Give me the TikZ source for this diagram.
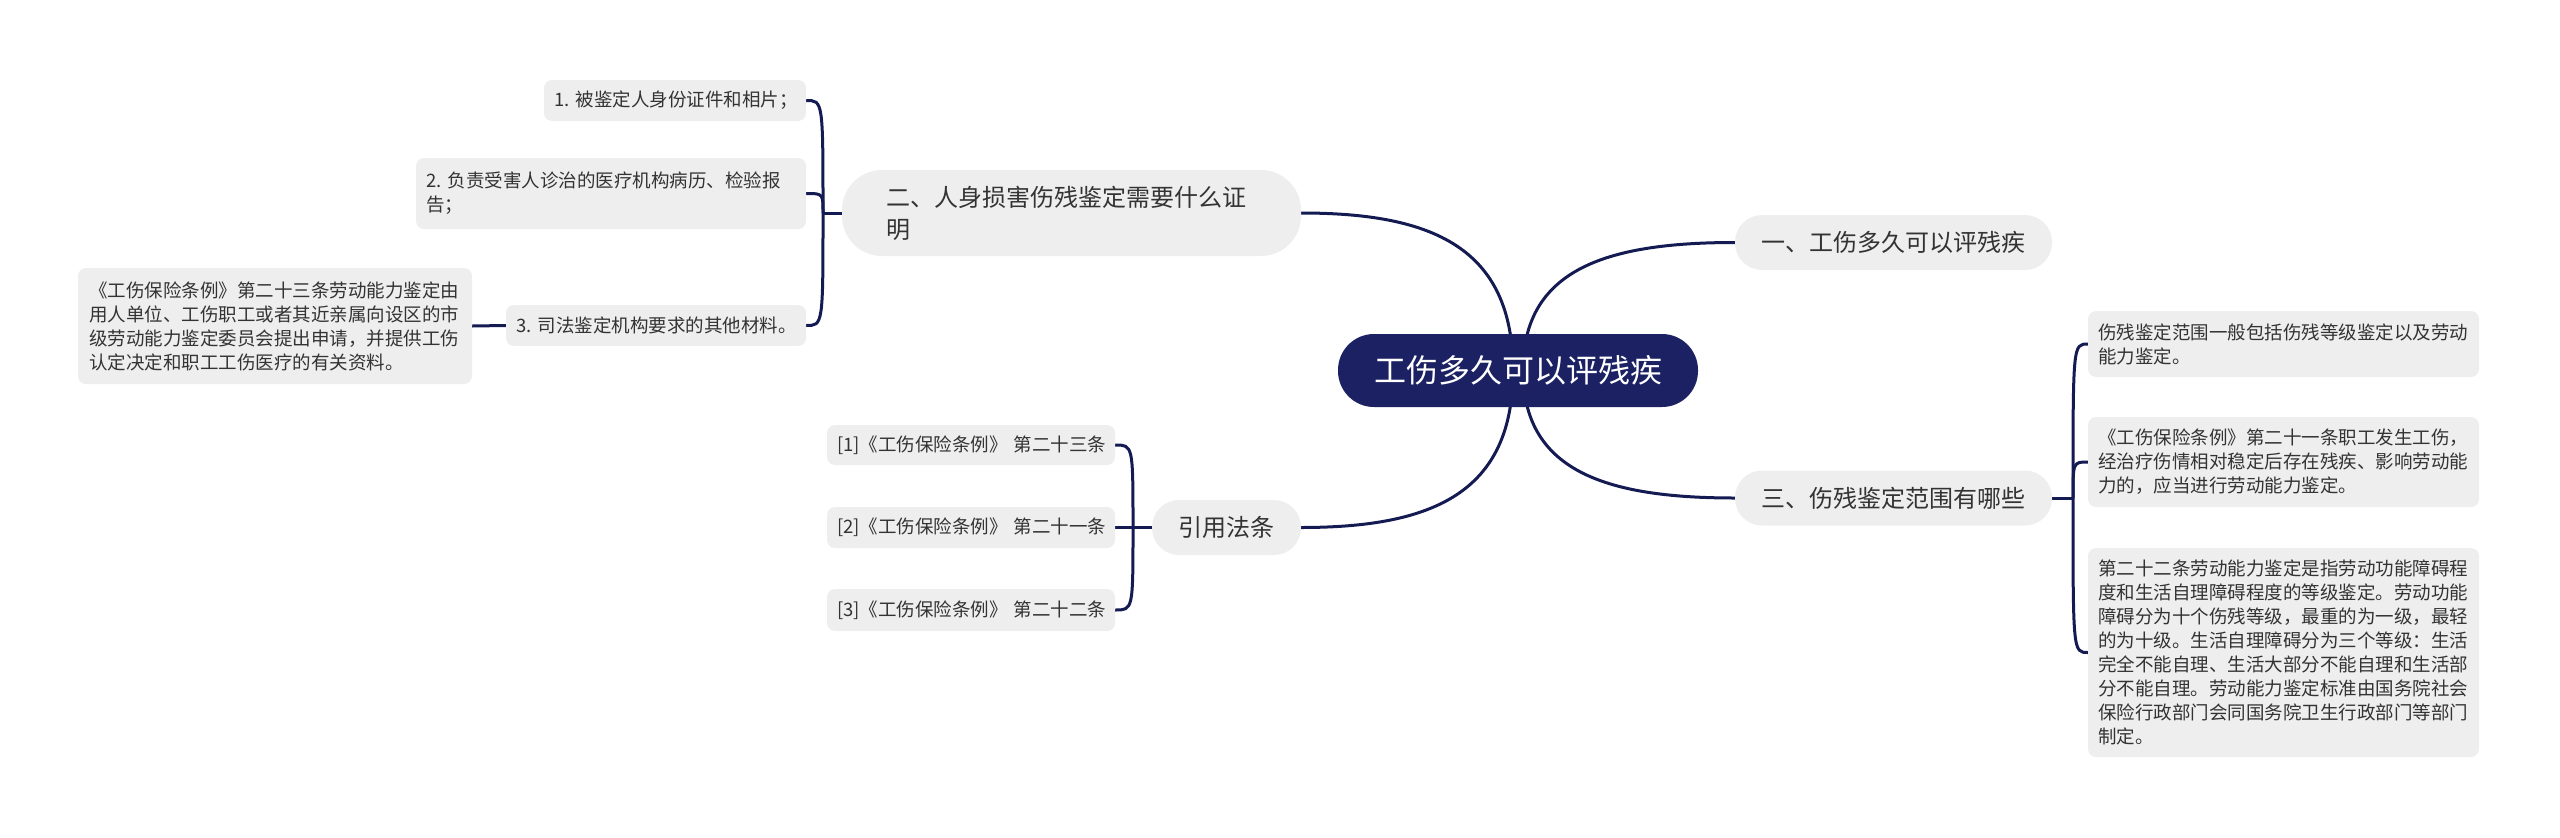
\documentclass[tikz,border=0pt]{standalone}
\usepackage{fontspec}
\setmainfont{Noto Sans CJK SC}
\usetikzlibrary{calc,backgrounds}
\definecolor{navy}{HTML}{1B2163}
\definecolor{linec}{HTML}{141A52}
\definecolor{boxg}{HTML}{EEEEEE}
\definecolor{txt}{HTML}{333333}
\tikzset{
  leaf/.style 2 args={fill=boxg, rounded corners=8pt, text=txt,
    font=\fontsize{18.5}{24}\selectfont, align=left, text width=#1,
    inner xsep=10pt, inner ysep=0pt, minimum height=#2},
  branch/.style 2 args={fill=boxg, rounded corners=27pt, text=txt,
    font=\fontsize{24}{32}\selectfont, minimum width=#1, minimum height=#2,
    inner xsep=0pt, inner ysep=0pt},
  root/.style={fill=navy, text=white, rounded corners=36pt,
    font=\fontsize{32}{40}\selectfont, minimum width=360pt, minimum height=73pt,
    inner sep=0pt},
  conn/.style={draw=linec, line width=3pt}
}
\begin{document}
\begin{tikzpicture}[x=1pt,y=-1pt]
\useasboundingbox (0,0) rectangle (2560,838);

% root
\node[root] (C) at (1518,370.5) {工伤多久可以评残疾};

% main branches
\node[branch={317pt}{55pt}] (B1) at (1893.5,242.5) {一、工伤多久可以评残疾};
\node[branch={317pt}{55pt}] (B3) at (1893.5,498) {三、伤残鉴定范围有哪些};
\node[branch={149pt}{55pt}] (B4) at (1226.5,527.5) {引用法条};
\node[fill=boxg, rounded corners=40pt, text=txt, font=\fontsize{24}{32}\selectfont,
  align=left, text width=371pt, inner xsep=44pt, inner ysep=0pt, minimum height=86pt]
  (B2) at (1071.5,213) {二、人身损害伤残鉴定需要什么证\\明};

% leaves of B2
\node[leaf={242pt}{41pt}] (L1) at (675,100.5) {1.~被鉴定人身份证件和相片；};
\node[leaf={370pt}{71pt}] (L2) at (611,193.5) {2.~负责受害人诊治的医疗机构病历、检验报\\告；};
\node[leaf={280pt}{41pt}] (L3) at (656,325.5) {3.~司法鉴定机构要求的其他材料。};
\node[leaf={372pt}{116pt}, inner xsep=11pt] (L3a) at (275,326) {《工伤保险条例》第二十三条劳动能力鉴定由\\用人单位、工伤职工或者其近亲属向设区的市\\级劳动能力鉴定委员会提出申请，并提供工伤\\认定决定和职工工伤医疗的有关资料。};

% citation leaves
\node[leaf={268pt}{40pt}] (Q1) at (971,445) {[1]《工伤保险条例》~第二十三条};
\node[leaf={268pt}{41pt}] (Q2) at (971,527.5) {[2]《工伤保险条例》~第二十一条};
\node[leaf={268pt}{42pt}] (Q3) at (971,610) {[3]《工伤保险条例》~第二十二条};

% leaves of B3
\node[leaf={371pt}{66pt}] (R1) at (2283.5,344) {伤残鉴定范围一般包括伤残等级鉴定以及劳动\\能力鉴定。};
\node[leaf={371pt}{90pt}] (R2) at (2283.5,462) {《工伤保险条例》第二十一条职工发生工伤，\\经治疗伤情相对稳定后存在残疾、影响劳动能\\力的，应当进行劳动能力鉴定。};
\node[leaf={371pt}{209pt}] (R3) at (2283.5,652.5) {第二十二条劳动能力鉴定是指劳动功能障碍程\\度和生活自理障碍程度的等级鉴定。劳动功能\\障碍分为十个伤残等级，最重的为一级，最轻\\的为十级。生活自理障碍分为三个等级：生活\\完全不能自理、生活大部分不能自理和生活部\\分不能自理。劳动能力鉴定标准由国务院社会\\保险行政部门会同国务院卫生行政部门等部门\\制定。};

% junctions
\coordinate (cR) at (1523,370.5);
\coordinate (cL) at (1513,370.5);
\coordinate (J2) at (823,213);
\coordinate (J3) at (2073,498);
\coordinate (J4) at (1133,527.5);

\begin{pgfonlayer}{background}
% main curves
\draw[conn] (cR) .. controls ($(cR)!0.78!(cR |- B1.west)$) and ($(cR |- B1.west)!0.38!(B1.west)$) .. (B1.west);
\draw[conn] (cR) .. controls ($(cR)!0.78!(cR |- B3.west)$) and ($(cR |- B3.west)!0.38!(B3.west)$) .. (B3.west);
\draw[conn] (cL) .. controls ($(cL)!0.78!(cL |- B2.east)$) and ($(cL |- B2.east)!0.38!(B2.east)$) .. (B2.east);
\draw[conn] (cL) .. controls ($(cL)!0.78!(cL |- B4.east)$) and ($(cL |- B4.east)!0.38!(B4.east)$) .. (B4.east);

% B2 bracket
\draw[conn] (B2.west) -- (J2);
\draw[conn] (J2) .. controls (J2 |- L1.east) .. (L1.east);
\draw[conn] (J2) .. controls (J2 |- L2.east) .. (L2.east);
\draw[conn] (J2) .. controls (J2 |- L3.east) .. (L3.east);
\draw[conn] (L3.west) -- (L3a.east);

% B4 bracket
\draw[conn] (B4.west) -- (J4);
\draw[conn] (J4) .. controls (J4 |- Q1.east) .. (Q1.east);
\draw[conn] (J4) -- (Q2.east);
\draw[conn] (J4) .. controls (J4 |- Q3.east) .. (Q3.east);

% B3 bracket
\draw[conn] (B3.east) -- (J3);
\draw[conn] (J3) .. controls (J3 |- R1.west) .. (R1.west);
\draw[conn] (J3) .. controls (J3 |- R2.west) .. (R2.west);
\draw[conn] (J3) .. controls (J3 |- R3.west) .. (R3.west);
\end{pgfonlayer}
\end{tikzpicture}
\end{document}
